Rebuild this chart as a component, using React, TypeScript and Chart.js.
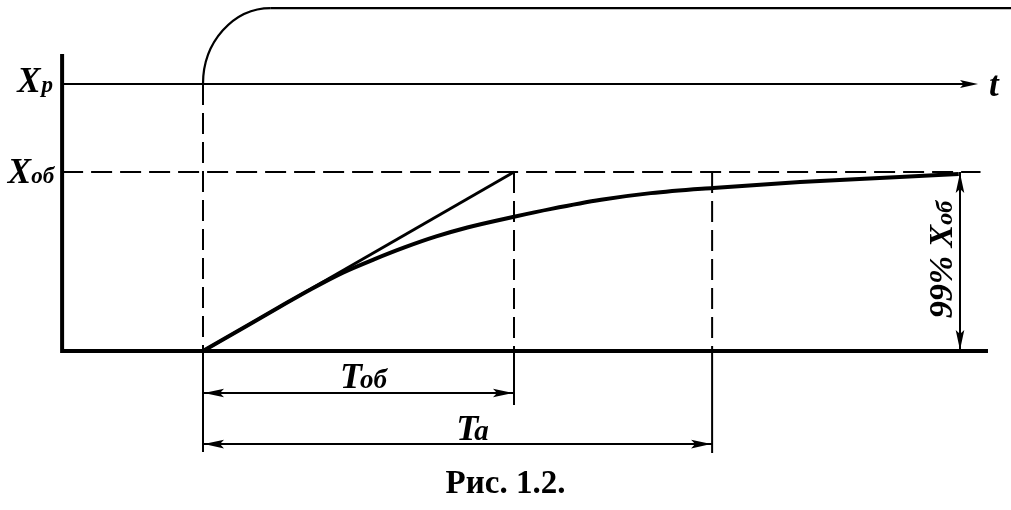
import React, { useEffect, useRef } from "react";
import { Chart, registerables } from "chart.js";

Chart.register(...registerables);

// ---- Data (time in units of T_об, output in units of X_об) ----
const responseTime = [0, 0.15, 0.25, 0.35, 0.45, 0.55, 0.65, 0.75, 0.85, 1.0, 1.12, 1.28, 1.44, 1.64, 1.92, 2.24, 2.43];
const responseValue = [0, 0.15, 0.25, 0.348, 0.438, 0.512, 0.58, 0.64, 0.69, 0.75, 0.794, 0.845, 0.882, 0.911, 0.944, 0.972, 0.989];

const tangentTime = [0, 1];
const tangentValue = [0, 1];

// input signal: rises from X_p at t0 along a quarter-round corner to its top level
const inputTime = [0, 0.218, 2.7];
const inputValue = [1.492, 1.916, 1.916];

const levelLabels = ["X", "X"];
const levelSubs = ["p", "об"];
const levelValues = [1.492, 1.0]; // X_p, X_об

const markTimes = [0, 1.0, 1.637, 2.434]; // t0, T_об, T_а, 99% point
const markLabels = ["T", "T"];
const markSubs = ["об", "а"];
const percentLabel = "99% X";
const percentSub = "об";
const timeLabel = "t";
const caption = "Рис. 1.2.";

// ---- Frame (axis ranges / construction lines) ----
const T_MIN = -0.6527;
const T_MAX = 2.598;
const V_MIN = -0.8883;
const V_MAX = 1.9609;
const AXIS_T = -0.453;
const AXIS_TOP = 1.659;
const AXIS_END = 2.524;
const XP_TIP = 2.492;
const XOB_END = 2.5;
const DIM_OB = -0.235;
const DIM_A = -0.52;
const EXT_ENDS = [-0.564, -0.302, -0.57];

const SERIF = '"Liberation Serif", "Times New Roman", serif';
const DASH = [21, 8];

const seg = (pts: number[][], extra: any = {}) => ({
  data: pts.map(([x, y]) => ({ x, y })),
  borderColor: "#000",
  borderWidth: 2,
  pointRadius: 0,
  fill: false,
  tension: 0,
  ...extra,
});

function head(ctx: CanvasRenderingContext2D, x: number, y: number, dx: number, dy: number, L = 20, w = 4.3) {
  const bx = x - dx * L;
  const by = y - dy * L;
  const nx = -dy;
  const ny = dx;
  ctx.beginPath();
  ctx.moveTo(x, y);
  ctx.lineTo(bx + nx * w, by + ny * w);
  ctx.lineTo(x - dx * L * 0.8, y - dy * L * 0.8);
  ctx.lineTo(bx - nx * w, by - ny * w);
  ctx.closePath();
  ctx.fill();
}

function subText(
  ctx: CanvasRenderingContext2D,
  main: string,
  sub: string,
  x: number,
  y: number,
  mainFont: string,
  subFont: string,
  align: "left" | "right" | "center",
  subGap = 0
) {
  ctx.font = mainFont;
  const mw = ctx.measureText(main).width;
  ctx.font = subFont;
  const sw = ctx.measureText(sub).width;
  const total = mw + subGap + sw;
  let left = x;
  if (align === "right") left = x - total;
  if (align === "center") left = x - total / 2;
  ctx.textAlign = "left";
  ctx.textBaseline = "alphabetic";
  ctx.font = mainFont;
  ctx.fillText(main, left, y);
  ctx.font = subFont;
  ctx.fillText(sub, left + mw + subGap, y);
}

const inputCorner = {
  id: "inputCorner",
  beforeDatasetsDraw(chart: any) {
    const { ctx } = chart;
    const sx = chart.scales.x;
    const sy = chart.scales.y;
    const x0 = sx.getPixelForValue(inputTime[0]);
    const y0 = sy.getPixelForValue(inputValue[0]);
    const x1 = sx.getPixelForValue(inputTime[1]);
    const y1 = sy.getPixelForValue(inputValue[1]);
    ctx.save();
    ctx.strokeStyle = "#000";
    ctx.lineWidth = 2.2;
    ctx.beginPath();
    // quarter ellipse centred at (x1, y0): from (x0, y0) up to (x1, y1)
    ctx.ellipse(x1, y0, x1 - x0, y0 - y1, 0, Math.PI, Math.PI * 1.5, false);
    ctx.stroke();
    ctx.restore();
  },
};

const annotate = {
  id: "annotate",
  afterDatasetsDraw(chart: any) {
    const { ctx } = chart;
    const sx = chart.scales.x;
    const sy = chart.scales.y;
    const px = (t: number) => sx.getPixelForValue(t);
    const py = (v: number) => sy.getPixelForValue(v);
    ctx.save();
    ctx.fillStyle = "#000";

    // arrowheads
    head(ctx, px(XP_TIP), py(levelValues[0]), 1, 0, 18, 4);
    head(ctx, px(markTimes[0]) + 1, py(DIM_OB), -1, 0);
    head(ctx, px(markTimes[1]) - 1, py(DIM_OB), 1, 0);
    head(ctx, px(markTimes[0]) + 1, py(DIM_A), -1, 0);
    head(ctx, px(markTimes[2]) - 1, py(DIM_A), 1, 0);
    head(ctx, px(markTimes[3]), py(1) + 1, 0, -1);
    head(ctx, px(markTimes[3]), py(0) - 1, 0, 1);

    const bigX = `bold italic 35px ${SERIF}`;
    const bigT = `bold italic 36px ${SERIF}`;
    const smallX = `bold italic 23px ${SERIF}`;
    const smallT = `bold italic 27px ${SERIF}`;

    // level labels
    const axisX = px(AXIS_T);
    subText(ctx, levelLabels[0], levelSubs[0], axisX - 9, py(levelValues[0]) + 8, bigX, smallX, "right", 1);
    subText(ctx, levelLabels[1], levelSubs[1], axisX - 8, py(levelValues[1]) + 11, bigX, smallX, "right", 0);

    // time label
    ctx.font = `bold italic 35px ${SERIF}`;
    ctx.textAlign = "left";
    ctx.fillText(timeLabel, px(XP_TIP) + 11, py(levelValues[0]) + 12);

    // dimension labels
    const midOb = (px(markTimes[0]) + px(markTimes[1])) / 2 + 5;
    subText(ctx, markLabels[0], markSubs[0], midOb, py(DIM_OB) - 5, bigT, smallT, "center", -2);
    const midA = (px(markTimes[0]) + px(markTimes[2])) / 2 + 15;
    subText(ctx, markLabels[1], markSubs[1], midA, py(DIM_A) - 4, bigT, `bold italic 29px ${SERIF}`, "center", -4);

    // 99% label (rotated)
    ctx.save();
    ctx.translate(px(markTimes[3]) - 8, (py(0) + py(1)) / 2 - 2);
    ctx.rotate(-Math.PI / 2);
    subText(ctx, percentLabel, percentSub, 0, 0, `bold italic 34px ${SERIF}`, `bold italic 24px ${SERIF}`, "center", 0);
    ctx.restore();

    // caption
    ctx.font = `bold 33px ${SERIF}`;
    ctx.textAlign = "center";
    ctx.fillText(caption, chart.width / 2, chart.height - 17);

    ctx.restore();
  },
};

export default function App() {
  const ref = useRef<HTMLCanvasElement | null>(null);

  useEffect(() => {
    document.body.style.margin = "0";
    const canvas = ref.current;
    if (!canvas) return;

    const response = responseTime.map((t, i) => [t, responseValue[i]]);
    const tangent = tangentTime.map((t, i) => [t, tangentValue[i]]);
    const inputTop = inputTime.slice(1).map((t, i) => [t, inputValue[i + 1]]);
    const [xp, xob] = levelValues;
    const [t0, tob, ta, t99] = markTimes;

    const datasets: any[] = [
      seg(response, { borderWidth: 4, cubicInterpolationMode: "monotone" }),
      seg(tangent, { borderWidth: 3 }),
      seg(inputTop, { borderWidth: 2.2 }),
      seg(
        [
          [AXIS_T, AXIS_TOP],
          [AXIS_T, 0],
          [AXIS_END, 0],
        ],
        { borderWidth: 4, borderJoinStyle: "miter" }
      ),
      seg([
        [AXIS_T, xp],
        [XP_TIP - 0.03, xp],
      ]),
      seg(
        [
          [AXIS_T, xob],
          [XOB_END, xob],
        ],
        { borderDash: DASH }
      ),
      // dashed construction verticals
      seg(
        [
          [t0, xp],
          [t0, 0],
        ],
        { borderDash: DASH }
      ),
      seg(
        [
          [tob, xob],
          [tob, 0],
        ],
        { borderDash: DASH }
      ),
      seg(
        [
          [ta, xob],
          [ta, 0],
        ],
        { borderDash: DASH }
      ),
      // solid extension lines below baseline
      seg([
        [t0, 0],
        [t0, EXT_ENDS[0]],
      ]),
      seg([
        [tob, 0],
        [tob, EXT_ENDS[1]],
      ]),
      seg([
        [ta, 0],
        [ta, EXT_ENDS[2]],
      ]),
      // dimension lines
      seg([
        [t0, DIM_OB],
        [tob, DIM_OB],
      ]),
      seg([
        [t0, DIM_A],
        [ta, DIM_A],
      ]),
      seg([
        [t99, 0],
        [t99, xob],
      ]),
    ];

    const chart = new Chart(canvas, {
      type: "line",
      data: { datasets },
      options: {
        animation: false,
        responsive: false,
        devicePixelRatio: 1,
        layout: { padding: 0 },
        parsing: false as any,
        plugins: { legend: { display: false }, tooltip: { enabled: false } },
        events: [],
        scales: {
          x: { type: "linear", min: T_MIN, max: T_MAX, display: false },
          y: { type: "linear", min: V_MIN, max: V_MAX, display: false },
        },
      },
      plugins: [inputCorner, annotate],
    });
    return () => chart.destroy();
  }, []);

  return (
    <div style={{ width: 1011, height: 510, background: "#fff" }}>
      <canvas ref={ref} width={1011} height={510} style={{ display: "block" }} />
    </div>
  );
}
